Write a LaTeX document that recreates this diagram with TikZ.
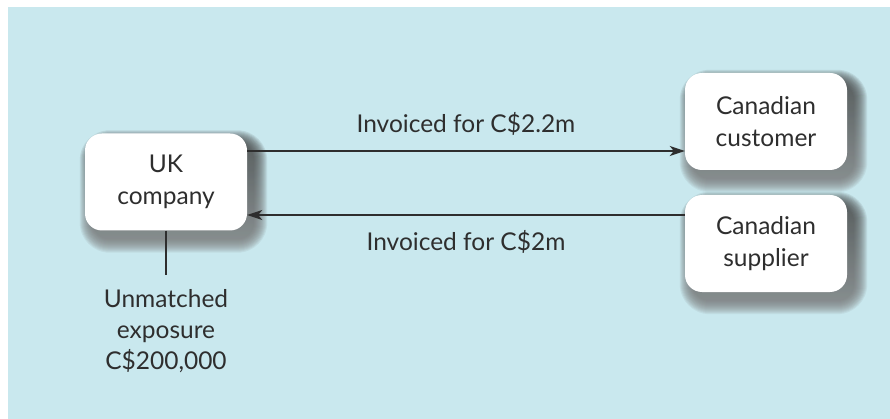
\documentclass[tikz,border=0pt]{standalone}
\usepackage{fontspec}
\setmainfont{Lato}
\usetikzlibrary{arrows.meta,backgrounds}
\definecolor{panel}{HTML}{C9E8EE}
\definecolor{ink}{HTML}{2E2E2E}
\definecolor{shade}{HTML}{2A4854}
\tikzset{
  party/.style={rounded corners=17pt, fill=white, text=ink, align=center,
    minimum width=162pt, minimum height=97pt, inner sep=0pt,
    font=\fontsize{24.5}{32}\selectfont},
  flow/.style={draw=ink, line width=1.8pt, -{Stealth[length=15pt,width=10pt,inset=4pt]}},
  tag/.style={text=ink, font=\fontsize{24.5}{31}\selectfont, align=center, inner sep=0pt}
}
% soft drop shadow behind a named box: stacked translucent rounded rectangles
\newcommand\softshadow[1]{%
  \foreach \k in {0,...,13}{%
    \fill[shade, opacity=0.055, rounded corners={17pt+\k*1pt}]
      ([xshift={7pt-\k*1pt+1pt}, yshift={-9pt+\k*1pt-1pt}]#1.north west)
      rectangle ([xshift={7pt+\k*1pt}, yshift={-9pt-\k*1pt}]#1.south east);
  }%
}
\begin{document}
\begin{tikzpicture}[x=1pt,y=-1pt]
\useasboundingbox (0,0) rectangle (890,419);

% the three parties
\node[party] (uk) at (166,182) {UK\\company};
\node[party] (cust) at (766,121.5) {Canadian\\customer};
\node[party] (supp) at (766,243.5) {Canadian\\supplier};

\begin{scope}[on background layer]
  \fill[white] (0,0) rectangle (890,419);
  \fill[panel] (8,7) rectangle (890,419);
  \softshadow{uk}
  \softshadow{cust}
  \softshadow{supp}
\end{scope}

% invoice flows
\coordinate (out) at ([yshift=31pt]uk.east);
\coordinate (in) at ([yshift=-33pt]uk.east);
\draw[flow] (out) -- node[tag, above=15pt] (lblout) {Invoiced for C\$2.2m} (out -| cust.west);
\draw[flow] (in -| supp.west) -- node[tag, below=15pt] (lblin) {Invoiced for C\$2m} (in);

% unmatched exposure
\coordinate (tick) at ([yshift=-44pt]uk.south);
\draw[ink, line width=1.8pt] (uk.south) -- (tick);
\node[tag] (expo) at (166,331) {Unmatched\\exposure\\C\$200,000};
\end{tikzpicture}
\end{document}
